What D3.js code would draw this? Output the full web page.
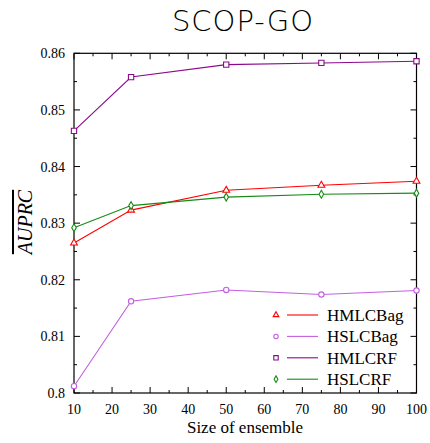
<!DOCTYPE html>
<html>
<head>
<meta charset="utf-8">
<script src="https://cdn.jsdelivr.net/npm/d3@7"></script>
<style>
  body { margin: 0; background: #fff; }
  svg { display: block; }
</style>
</head>
<body>
<svg id="chart" width="430" height="443"></svg>
<script>
// Ensemble sizes on the x axis
const ensembleSizes = [10, 25, 50, 75, 100];

// Mean AUPRC per method
const hmlcBag = [0.8265, 0.8323, 0.8358, 0.8367, 0.8374];
const hslcBag = [0.8012, 0.8162, 0.8182, 0.8174, 0.8181];
const hmlcRF  = [0.8463, 0.8558, 0.8580, 0.8583, 0.8586];
const hslcRF  = [0.8292, 0.8331, 0.8346, 0.8351, 0.8353];

const xTicks = [10, 20, 30, 40, 50, 60, 70, 80, 90, 100];
const yTicks = [0.80, 0.81, 0.82, 0.83, 0.84, 0.85, 0.86];

const series = [
  { name: "HMLCBag", values: hmlcBag, color: "#ff0000", symbol: d3.symbolTriangle, size: 20 },
  { name: "HSLCBag", values: hslcBag, color: "#c35fe0", symbol: d3.symbolCircle, size: 22 },
  { name: "HMLCRF",  values: hmlcRF,  color: "#8b0a8b", symbol: d3.symbolSquare, size: 28 },
  { name: "HSLCRF",  values: hslcRF,  color: "#168a16", symbol: d3.symbolDiamond, size: 18 }
];

const svg = d3.select("#chart");
const plotL = 74, plotR = 416.5, plotT = 53.3, plotB = 393;

const x = d3.scaleLinear().domain([10, 100]).range([plotL, plotR]);
const y = d3.scaleLinear().domain([0.80, 0.86]).range([plotB, plotT]);

const serif = "'Liberation Serif', 'Times New Roman', serif";

// Title
svg.append("text")
  .attr("x", 243).attr("y", 31)
  .attr("text-anchor", "middle")
  .attr("font-family", "'DejaVu Sans', sans-serif")
  .attr("font-weight", 200)
  .attr("letter-spacing", 1)
  .attr("font-size", 29)
  .text("SCOP-GO");

// Inward ticks on all four sides
const xMinor = d3.range(15, 100, 10);
const yMinor = d3.range(0.805, 0.86, 0.01);
const tickG = svg.append("g").attr("stroke", "#000").attr("stroke-width", 1);
xTicks.forEach(v => {
  tickG.append("line").attr("x1", x(v)).attr("x2", x(v)).attr("y1", plotB).attr("y2", plotB - 6);
  tickG.append("line").attr("x1", x(v)).attr("x2", x(v)).attr("y1", plotT).attr("y2", plotT + 6);
});
xMinor.forEach(v => {
  tickG.append("line").attr("x1", x(v)).attr("x2", x(v)).attr("y1", plotB).attr("y2", plotB - 3);
  tickG.append("line").attr("x1", x(v)).attr("x2", x(v)).attr("y1", plotT).attr("y2", plotT + 3);
});
yTicks.forEach(v => {
  tickG.append("line").attr("x1", plotL).attr("x2", plotL + 6).attr("y1", y(v)).attr("y2", y(v));
  tickG.append("line").attr("x1", plotR).attr("x2", plotR - 6).attr("y1", y(v)).attr("y2", y(v));
});
yMinor.forEach(v => {
  tickG.append("line").attr("x1", plotL).attr("x2", plotL + 3).attr("y1", y(v)).attr("y2", y(v));
  tickG.append("line").attr("x1", plotR).attr("x2", plotR - 3).attr("y1", y(v)).attr("y2", y(v));
});

// Frame
svg.append("rect")
  .attr("x", plotL).attr("y", plotT)
  .attr("width", plotR - plotL).attr("height", plotB - plotT)
  .attr("fill", "none").attr("stroke", "#000").attr("stroke-width", 1.2);

// Tick labels
svg.append("g").selectAll("text").data(xTicks).join("text")
  .attr("x", d => x(d)).attr("y", plotB + 21)
  .attr("text-anchor", "middle")
  .attr("font-family", serif).attr("font-size", 14)
  .text(d => d);
svg.append("g").selectAll("text").data(yTicks).join("text")
  .attr("x", plotL - 9).attr("y", d => y(d) + 5)
  .attr("text-anchor", "end")
  .attr("font-family", serif).attr("font-size", 14)
  .text(d => String(+d.toFixed(2)));

// Axis titles
svg.append("text")
  .attr("x", 245).attr("y", 433)
  .attr("text-anchor", "middle")
  .attr("font-family", serif).attr("font-size", 17)
  .text("Size of ensemble");

const yl = svg.append("g").attr("transform", "translate(32,222) rotate(-90)");
yl.append("text")
  .attr("text-anchor", "middle")
  .attr("font-family", serif).attr("font-size", 20)
  .attr("font-style", "italic")
  .attr("text-decoration", "overline")
  .text("AUPRC");

// Lines and markers
const line = d3.line().x((d, i) => x(ensembleSizes[i])).y(d => y(d));
series.forEach(s => {
  svg.append("path")
    .datum(s.values)
    .attr("d", line)
    .attr("fill", "none")
    .attr("stroke", s.color)
    .attr("stroke-width", 1.1);
  svg.append("g").selectAll("path").data(s.values).join("path")
    .attr("transform", (d, i) => `translate(${x(ensembleSizes[i])},${y(d)})`)
    .attr("d", d3.symbol(s.symbol, s.size))
    .attr("fill", "#fff")
    .attr("stroke", s.color)
    .attr("stroke-width", 1.1);
});

// Legend
const legend = svg.append("g");
series.forEach((s, i) => {
  const ly = 315 + i * 21.4;
  legend.append("path")
    .attr("transform", `translate(276,${ly})`)
    .attr("d", d3.symbol(s.symbol, s.size * 0.7))
    .attr("fill", "#fff").attr("stroke", s.color).attr("stroke-width", 1.1);
  legend.append("line")
    .attr("x1", 287).attr("x2", 318).attr("y1", ly).attr("y2", ly)
    .attr("stroke", s.color).attr("stroke-width", 1.1);
  legend.append("text")
    .attr("x", 327).attr("y", ly + 6)
    .attr("font-family", serif).attr("font-size", 17)
    .text(s.name);
});
</script>
</body>
</html>
